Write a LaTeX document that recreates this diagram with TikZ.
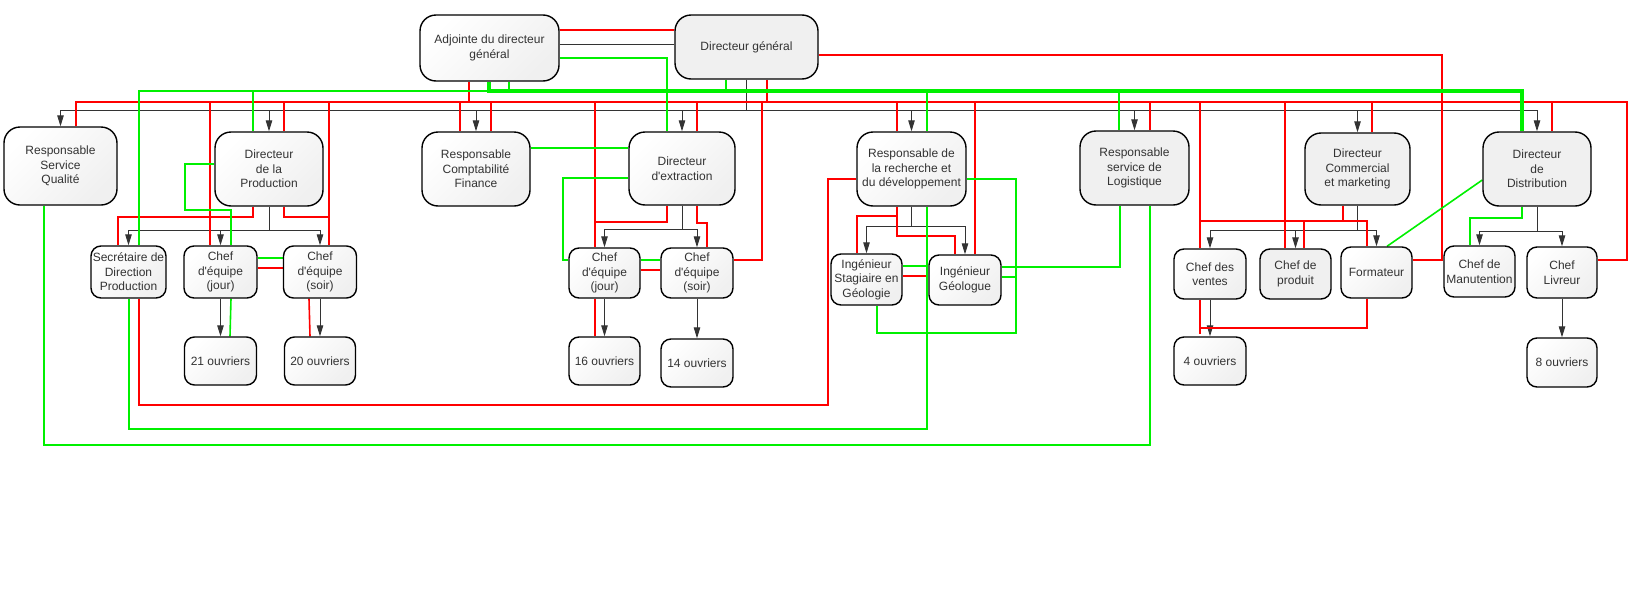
\documentclass[tikz,border=0pt]{standalone}
\usepackage{fontspec}
\newfontfamily\nf{Liberation Sans}
\usetikzlibrary{arrows.meta}
\definecolor{lg}{RGB}{0,240,0}
\definecolor{rd}{RGB}{255,0,0}
\definecolor{tx}{RGB}{51,51,51}
\pgfdeclarelayer{bg}
\pgfsetlayers{bg,main}
\tikzset{
  bx/.style={draw=black, line width=1.4pt, rounded corners=16pt, align=center, inner sep=1pt, text=tx, font=\nf\fontsize{12}{14.5}\selectfont},
  wbox/.style={bx, left color=white, right color=black!6, shading angle=45},
  gbox/.style={bx, fill=black!6},
  sbox/.style={wbox, rounded corners=10pt},
  sgbox/.style={gbox, rounded corners=10pt},
  tl/.style={draw=black!80, line width=0.9pt},
  ar/.style={tl, -{Triangle[length=11pt,width=6.5pt]}},
  rl/.style={draw=rd, line width=1.6pt},
  rlt/.style={draw=rd, line width=2.6pt},
  gl/.style={draw=lg, line width=1.6pt},
  glt/.style={draw=lg, line width=3.6pt},
}
\begin{document}
\begin{tikzpicture}[x=1pt,y=-1pt]
\useasboundingbox (0,0) rectangle (1650,600);
% top
\node[wbox, minimum width=139pt, minimum height=66pt] (A) at (489.5,48) {Adjointe du directeur\\général};
\node[gbox, minimum width=143pt, minimum height=64pt] (DG) at (746.5,47) {Directeur général};
% row 2
\node[wbox, minimum width=113pt, minimum height=78pt] (RSQ) at (60.5,166) {Responsable\\Service\\Qualité};
\node[wbox, minimum width=108pt, minimum height=74pt] (DP) at (269,169) {Directeur\\de la\\Production};
\node[wbox, minimum width=108pt, minimum height=74pt] (RCF) at (476,169) {Responsable\\Comptabilité\\Finance};
\node[wbox, minimum width=106pt, minimum height=73pt] (DE) at (682,168.5) {Directeur\\d'extraction};
\node[wbox, minimum width=109pt, minimum height=74pt] (RD) at (911.5,169) {Responsable de\\la recherche et\\du développement};
\node[gbox, minimum width=109pt, minimum height=74pt] (RL) at (1134.5,168) {Responsable\\service de\\Logistique};
\node[gbox, minimum width=105pt, minimum height=72pt] (DC) at (1357.5,169) {Directeur\\Commercial\\et marketing};
\node[gbox, minimum width=108pt, minimum height=74pt] (DD) at (1537,169) {Directeur\\de\\Distribution};
% row 3
\node[sbox, minimum width=75pt, minimum height=52pt] (SEC) at (128.5,272) {Secrétaire de\\Direction\\Production};
\node[sbox, minimum width=73pt, minimum height=52pt] (CJ1) at (220.5,272) {Chef\\d'équipe\\(jour)};
\node[sbox, minimum width=73pt, minimum height=52pt] (CS1) at (320,272) {Chef\\d'équipe\\(soir)};
\node[sbox, minimum width=72pt, minimum height=48pt] (O21) at (220.5,361) {21 ouvriers};
\node[sbox, minimum width=71pt, minimum height=48pt] (O20) at (320,361) {20 ouvriers};
\node[sbox, minimum width=71pt, minimum height=50pt] (CJ2) at (604.5,273) {Chef\\d'équipe\\(jour)};
\node[sbox, minimum width=72pt, minimum height=50pt] (CS2) at (697,273) {Chef\\d'équipe\\(soir)};
\node[sbox, minimum width=71pt, minimum height=48pt] (O16) at (604.5,361) {16 ouvriers};
\node[sbox, minimum width=72pt, minimum height=48pt] (O14) at (697,363) {14 ouvriers};
\node[sbox, minimum width=71pt, minimum height=51pt] (IS) at (866.5,279.5) {Ingénieur\\Stagiaire en\\Géologie};
\node[sbox, minimum width=72pt, minimum height=50pt] (IG) at (965,280) {Ingénieur\\Géologue};
\node[sbox, minimum width=72pt, minimum height=50pt] (CV) at (1210,274) {Chef des\\ventes};
\node[sgbox, minimum width=71pt, minimum height=50pt] (CP) at (1295.5,274) {Chef de\\produit};
\node[sbox, minimum width=71pt, minimum height=51pt] (FO) at (1376.5,272.5) {Formateur};
\node[sbox, minimum width=71pt, minimum height=51pt] (CM) at (1479.5,271.5) {Chef de\\Manutention};
\node[sbox, minimum width=70pt, minimum height=51pt] (CL) at (1562,272.5) {Chef\\Livreur};
\node[sbox, minimum width=72pt, minimum height=48pt] (O4) at (1210,361) {4 ouvriers};
\node[sbox, minimum width=70pt, minimum height=49pt] (O8) at (1562,362.5) {8 ouvriers};

\begin{pgfonlayer}{bg}
% ---- black tree
\draw[tl] (A.east |- 0,44) -- (DG.west |- 0,44);
\draw[tl] (DG.south -| 746,0) -- (746,110);
\draw[tl] (60,110) -- (1537,110);
\foreach \n in {RSQ,DP,RCF,DE,RD,RL,DC,DD} {\draw[ar] (\n.north |- 0,110) -- (\n.north);}
\draw[tl] (DP.south) -- (DP.south |- 0,230);
\draw[tl] (SEC.north |- 0,230) -- (CS1.north |- 0,230);
\foreach \n in {SEC,CJ1,CS1} {\draw[ar] (\n.north |- 0,230) -- (\n.north);}
\draw[ar] (CJ1.south) -- (O21.north);
\draw[ar] (CS1.south) -- (O20.north);
\draw[tl] (DE.south) -- (DE.south |- 0,229);
\draw[tl] (CJ2.north |- 0,229) -- (CS2.north |- 0,229);
\foreach \n in {CJ2,CS2} {\draw[ar] (\n.north |- 0,229) -- (\n.north);}
\draw[ar] (CJ2.south) -- (O16.north);
\draw[ar] (CS2.south) -- (O14.north);
\draw[tl] (RD.south) -- (RD.south |- 0,226);
\draw[tl] (IS.north |- 0,226) -- (IG.north |- 0,226);
\foreach \n in {IS,IG} {\draw[ar] (\n.north |- 0,226) -- (\n.north);}
\draw[tl] (DC.south) -- (DC.south |- 0,230);
\draw[tl] (CV.north |- 0,230) -- (FO.north |- 0,230);
\foreach \n in {CV,CP,FO} {\draw[ar] (\n.north |- 0,230) -- (\n.north);}
\draw[ar] (CV.south) -- (O4.north);
\draw[tl] (DD.south) -- (DD.south |- 0,231);
\draw[tl] (CM.north |- 0,231) -- (CL.north |- 0,231);
\foreach \n in {CM,CL} {\draw[ar] (\n.north |- 0,231) -- (\n.north);}
\draw[ar] (CL.south) -- (O8.north);

% ---- red
\draw[rl] (RSQ.north -| 76,0) -- (76,102) -- (1627,102) -- (1627,260) -- (CL.east |- 0,260);
\draw[rl] (210,102) -- (CJ1.north -| 210,0);
\draw[rl] (284,102) -- (DP.north -| 284,0);
\draw[rl] (329,102) -- (CS1.north -| 329,0);
\draw[rl] (DP.south -| 253,0) -- (253,217) -| (SEC.north -| 118,0);
\draw[rl] (DP.south -| 284,0) -- (284,217) -- (329,217);
\draw[rl] (CJ1.east |- 0,268) -- (CS1.west |- 0,268);
\draw[rl] (CS1.south -| 309,0) -- (O20.north -| 310,0);
\draw[rl] (SEC.south -| 139,0) -- (139,405) -- (828,405) |- (RD.west |- 0,179);
\draw[rl] (A.south -| 469,0) -- (469,102);
\draw[rlt] (460,102) -- (RCF.north -| 460,0);
\draw[rl] (491,102) -- (RCF.north -| 491,0);
\draw[rl] (595,102) -- (CJ2.north -| 595,0);
\draw[rl] (DE.south -| 667,0) -- (667,222) -- (595,222);
\draw[rl] (CJ2.south -| 595,0) -- (O16.north -| 595,0);
\draw[rl] (697,102) -- (DE.north -| 697,0);
\draw[rl] (DE.south -| 697,0) -- (697,223) -| (CS2.north -| 707,0);
\draw[rl] (762,102) |- (CS2.east |- 0,260);
\draw[rl] (CJ2.east |- 0,270) -- (CS2.west |- 0,270);
\draw[rl] (A.east |- 0,30) -- (DG.west |- 0,30);
\draw[rl] (DG.south -| 767,0) -- (767,102);
\draw[rl] (DG.east |- 0,55) -| (1442,260) -- (FO.east |- 0,260);
\draw[rlt] (897,102) -- (RD.north -| 897,0);
\draw[rl] (975,102) -- (IG.north -| 975,0);
\draw[rl] (RD.south -| 897,0) -- (897,236) -| (IG.north -| 955,0);
\draw[rl] (897,216) -| (IS.north -| 857,0);
\draw[rl] (IS.east |- 0,276) -- (IG.west |- 0,276);
\draw[rl] (1150,102) -- (RL.north -| 1150,0);
\draw[rl] (1200,102) -- (CV.north -| 1200,0);
\draw[rl] (CV.south -| 1200,0) -- (1200,334);
\draw[rl] (FO.south -| 1367,0) |- (1200,328);
\draw[rl] (1285,102) -- (CP.north -| 1285,0);
\draw[rlt] (DC.south -| 1343,0) -- (1343,221);
\draw[rl] (1200,221) -| (FO.north -| 1367,0);
\draw[rl] (1304,221) -- (CP.north -| 1304,0);
\draw[rl] (1372,102) -- (DC.north -| 1372,0);
\draw[rl] (1552,102) -- (DD.north -| 1552,0);

% ---- green
\draw[gl] (SEC.north -| 139,0) -- (139,91) -- (489,91);
\draw[gl] (253,91) -- (DP.north -| 253,0);
\draw[glt] (A.south -| 489,0) -- (489,91) -| (DD.north -| 1522,0);
\draw[gl] (A.south -| 509,0) -- (509,91);
\draw[gl] (DG.south -| 726,0) -- (726,91);
\draw[gl] (927,91) -- (RD.north -| 927,0);
\draw[gl] (1119,91) -- (RL.north -| 1119,0);
\draw[gl] (A.east |- 0,58) -| (DE.north -| 667,0);
\draw[gl] (RCF.east |- 0,148) -- (DE.west |- 0,148);
\draw[gl] (DE.west |- 0,178) -- (563,178) |- (CJ2.west |- 0,260);
\draw[gl] (CJ2.east |- 0,260) -- (CS2.west |- 0,260);
\draw[gl] (DP.west |- 0,164) -- (185,164) -- (185,210) -| (CJ1.north -| 231,0);
\draw[gl] (CJ1.south -| 231,0) -- (O21.north -| 230,0);
\draw[gl] (CJ1.east |- 0,258) -- (CS1.west |- 0,258);
\draw[gl] (RSQ.south -| 44,0) -- (44,445) -| (RL.south -| 1150,0);
\draw[gl] (SEC.south -| 129,0) -- (129,429) -| (RD.south -| 927,0);
\draw[gl] (RD.east |- 0,179) -- (1016,179) -- (1016,333) -| (IS.south -| 877,0);
\draw[gl] (IG.east |- 0,277) -- (1016,277);
\draw[gl] (IG.east |- 0,267) -| (RL.south -| 1120,0);
\draw[gl] (IS.east |- 0,266) -- (IG.west |- 0,266);
\draw[gl] (DD.south -| 1522,0) -- (1522,218) -| (CM.north -| 1470,0);
\draw[gl] (DD.west |- 0,180) -- (FO.north -| 1387,0);
\end{pgfonlayer}
\end{tikzpicture}
\end{document}
